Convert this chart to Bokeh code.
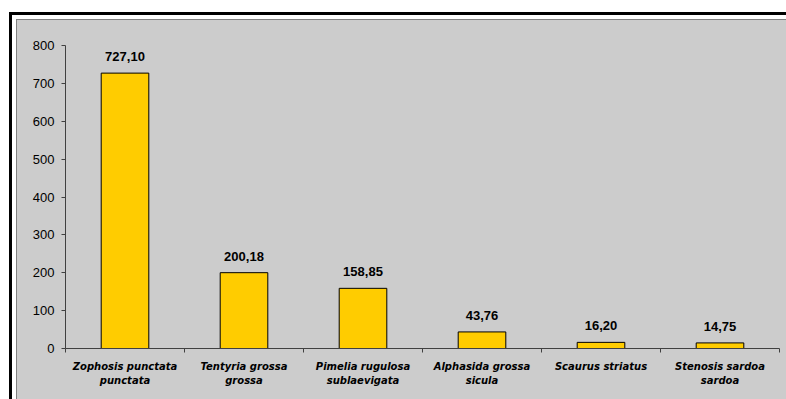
from bokeh.plotting import figure
from bokeh.models import (ColumnDataSource, FixedTicker, LabelSet, Range1d, Column)
from bokeh.core.properties import value
from bokeh.embed import file_html
from bokeh.resources import INLINE

species = ["Zophosis punctata\npunctata", "Tentyria grossa\ngrossa",
           "Pimelia rugulosa\nsublaevigata", "Alphasida grossa\nsicula",
           "Scaurus striatus", "Stenosis sardoa\nsardoa"]
values = [727.10, 200.18, 158.85, 43.76, 16.20, 14.75]
value_labels = ["727,10", "200,18", "158,85", "43,76", "16,20", "14,75"]
y_ticks = [0, 100, 200, 300, 400, 500, 600, 700, 800]

n = len(species)
centers = [i + 0.5 for i in range(n)]
bounds = [float(i) for i in range(n + 1)]

src = ColumnDataSource(dict(x=centers, top=values, lab=value_labels))

GRAY = "#CCCCCC"
AX = "#404040"

p = figure(width=769, height=379, output_backend="svg", toolbar_location=None,
           x_range=Range1d(0, n), y_range=Range1d(0, 800),
           min_border_left=48, min_border_right=7, min_border_top=25, min_border_bottom=51,
           background_fill_color=GRAY, border_fill_color=GRAY)
p.outline_line_color = None
p.grid.visible = False

p.vbar(x="x", top="top", width=0.4, bottom=0, source=src,
       fill_color="#FFCC00", line_color="black", line_width=1)

p.add_layout(LabelSet(x="x", y="top", text="lab", source=src, text_align="center",
                      text_baseline="alphabetic", y_offset=12,
                      text_font=value("Liberation Sans"), text_font_style="bold",
                      text_font_size="13px", text_color="black"))

# y axis
ya = p.yaxis[0]
ya.ticker = FixedTicker(ticks=y_ticks)
ya.axis_line_color = AX
ya.major_tick_line_color = AX
ya.major_tick_out = 4
ya.major_tick_in = 0
ya.minor_tick_line_color = None
ya.major_label_standoff = 7
ya.major_label_text_font = "Liberation Sans"
ya.major_label_text_font_size = "13px"
ya.major_label_text_color = "black"

# x axis
xa = p.xaxis[0]
xa.ticker = FixedTicker(ticks=centers, minor_ticks=bounds)
xa.major_label_overrides = {c: s for c, s in zip(centers, species)}
xa.axis_line_color = AX
xa.major_tick_line_color = None
xa.major_tick_out = 0
xa.major_tick_in = 0
xa.minor_tick_line_color = AX
xa.minor_tick_out = 4
xa.minor_tick_in = 0
xa.major_label_standoff = 8
xa.major_label_text_font = "DejaVu Sans"
xa.major_label_text_font_style = "bold italic"
xa.major_label_text_font_size = "10px"
xa.major_label_text_line_height = 1.35
xa.major_label_text_color = "black"

panel = Column(children=[p], styles={"border-top": "1px solid #808080",
                                     "border-left": "1px solid #808080",
                                     "background-color": GRAY})
inner = Column(children=[panel], styles={"border-top": "3px solid black",
                                         "border-left": "3px solid black",
                                         "padding": "4px 0 0 4px",
                                         "background-color": "white"})
outer = Column(children=[inner], styles={"padding": "12px 0 0 9px"})

open("out.html", "w").write(file_html(outer, INLINE))
